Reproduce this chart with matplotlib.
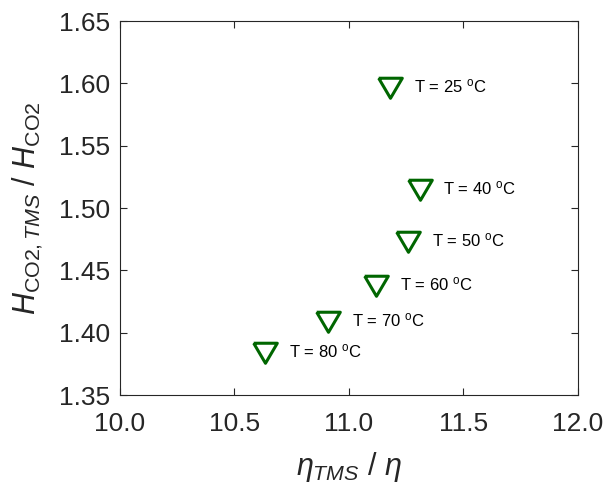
import matplotlib
matplotlib.use("Agg")
import matplotlib.pyplot as plt

plt.rcParams['font.family'] = ['Liberation Sans', 'DejaVu Sans']
plt.rcParams['mathtext.fontset'] = 'custom'
plt.rcParams['mathtext.rm'] = 'Liberation Sans'
plt.rcParams['mathtext.it'] = 'Liberation Sans:italic'

viscosity_ratio = [11.18, 11.31, 11.26, 11.12, 10.91, 10.635]
henry_ratio = [1.598, 1.516, 1.474, 1.439, 1.410, 1.385]
temps = [25, 40, 50, 60, 70, 80]

green = '#006600'
grey = '#262626'

fig = plt.figure(figsize=(6.06, 4.83), dpi=100)
ax = fig.add_axes([0.198, 0.182, 0.755, 0.7745])

tri = [(-1, 0.7), (1, 0.7), (0, -1), (-1, 0.7)]
ax.plot(viscosity_ratio, henry_ratio, linestyle='none', marker=tri,
        markersize=17, markerfacecolor='none', markeredgecolor=green,
        markeredgewidth=2.2)

for x, y, t in zip(viscosity_ratio, henry_ratio, temps):
    ax.annotate('T = %d $^\\mathrm{o}$C' % t, (x, y), xytext=(17, 0),
                textcoords='offset points', fontsize=12, va='center',
                color='black')

ax.set_xlim(10, 12)
ax.set_ylim(1.35, 1.65)
ax.set_xticks([10.0, 10.5, 11.0, 11.5, 12.0])
ax.set_xticklabels(['10.0', '10.5', '11.0', '11.5', '12.0'])
ax.set_yticks([1.35, 1.40, 1.45, 1.50, 1.55, 1.60, 1.65])
ax.set_yticklabels(['1.35', '1.40', '1.45', '1.50', '1.55', '1.60', '1.65'])

ax.tick_params(direction='in', top=True, right=True, length=5, width=0.8,
               labelsize=19, colors=grey)
ax.tick_params(axis='x', pad=12)
ax.tick_params(axis='y', pad=7)
for s in ax.spines.values():
    s.set_color(grey)
    s.set_linewidth(0.8)

ax.set_xlabel(r'$\eta_{TMS}$ / $\eta$', fontsize=22, color=grey, labelpad=10)
ax.set_ylabel(r'$H_{\mathrm{CO2},TMS}$ / $H_{\mathrm{CO2}}$', fontsize=22,
              color=grey, labelpad=10)

fig.savefig('out.png', dpi=100)
